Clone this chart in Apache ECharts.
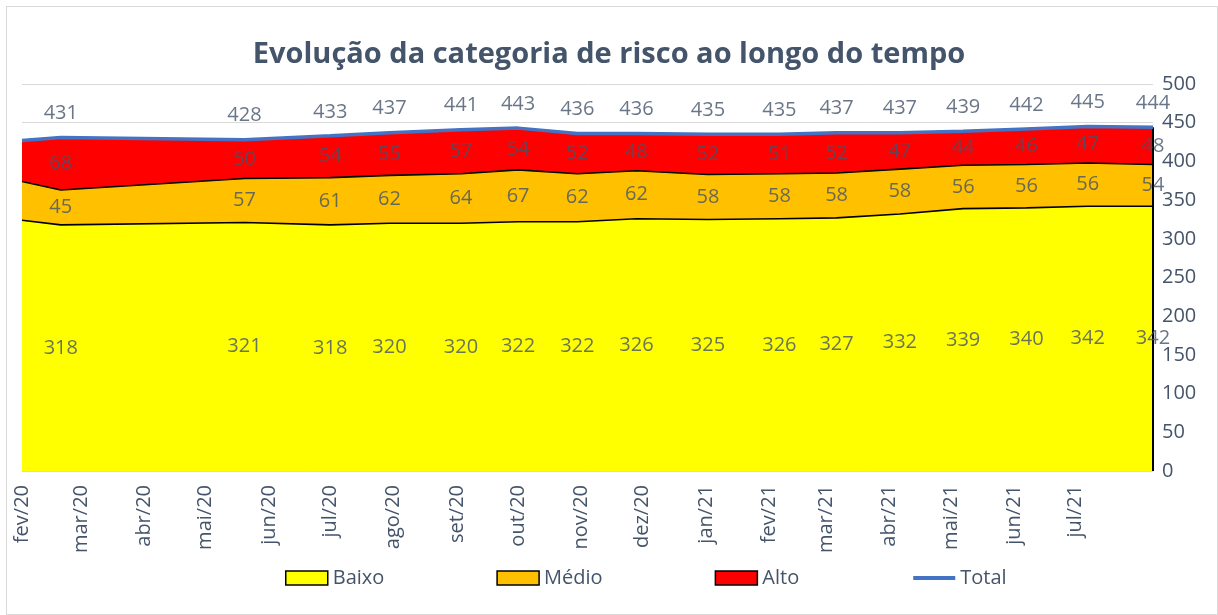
<!DOCTYPE html>
<html><head><meta charset="utf-8">
<script src="https://cdn.jsdelivr.net/npm/echarts@6/dist/echarts.min.js"></script>
<style>
html,body{margin:0;padding:0;background:#fff}
#frame{position:absolute;left:6px;top:6px;width:1212px;height:609px;border:1px solid #D9D9D9;box-sizing:border-box}
#c{position:absolute;left:0;top:0;width:1218px;height:615px}
</style></head>
<body><div id="frame"></div><div id="c"></div>
<script>
const dates = ['2020-02-01','2020-02-20','2020-05-20','2020-07-01','2020-07-30','2020-09-03','2020-10-01','2020-10-30','2020-11-28','2021-01-02','2021-02-06','2021-03-06','2021-04-06','2021-05-07','2021-06-07','2021-07-07','2021-08-08'];
const baixo = [324,318,321,318,320,320,322,322,326,325,326,327,332,339,340,342,342];
const medio = [50,45,57,61,62,64,67,62,62,58,58,58,58,56,56,56,54];
const alto  = [53,68,50,54,55,57,54,52,48,52,51,52,47,44,46,47,48];
const total = [427,431,428,433,437,441,443,436,436,435,435,437,437,439,442,445,444];
const labelled = [false,true,true,true,true,true,true,true,true,true,true,true,true,true,true,true,true];
const monthTicks = ['2020-02-01','2020-03-01','2020-04-01','2020-05-01','2020-06-01','2020-07-01','2020-08-01','2020-09-01','2020-10-01','2020-11-01','2020-12-01','2021-01-01','2021-02-01','2021-03-01','2021-04-01','2021-05-01','2021-06-01','2021-07-01'];
const monthNames = ['jan','fev','mar','abr','mai','jun','jul','ago','set','out','nov','dez'];
const seriesNames = ['Baixo','Médio','Alto','Total'];
const colors = ['#FFFF00','#FFC000','#FF0000','#4472C4'];

const TXT = '#44546A';
const FONT = 'Open Sans';
const DAY = 86400000;
const toDay = s => { const p = s.split('-').map(Number); return Math.round(Date.UTC(p[0], p[1]-1, p[2]) / DAY); };
const xs = dates.map(toDay);
const tickDays = monthTicks.map(toDay);
const fmtMonth = v => { const d = new Date(v * DAY); return monthNames[d.getUTCMonth()] + '/' + String(d.getUTCFullYear()).slice(2); };

// cumulative tops of the stacked bands
const cumBaixo = baixo.slice();
const cumMedio = baixo.map((v,i) => v + medio[i]);
const cumAlto = cumMedio.map((v,i) => v + alto[i]);

function areaSeries(name, vals, color) {
  return {
    name, type: 'line', data: vals.map((v,i)=>[xs[i], v]),
    showSymbol: false, symbol: 'none',
    lineStyle: { color: '#000', width: 1.6 },
    itemStyle: { color },
    areaStyle: { color, opacity: 1, origin: 'start' },
    z: 2
  };
}
function labelSeries(posVals, origVals, position, distance) {
  return {
    type: 'scatter', symbolSize: 0, silent: true, z: 10,
    data: posVals.map((m,i)=>({ value:[xs[i], m, origVals[i]], label:{ show: labelled[i] } })),
    label: { position, distance, color: TXT, fontSize: 20, fontFamily: FONT, formatter: p => p.value[2] }
  };
}
const midBaixo = baixo.map(v => v/2);
const midMedio = baixo.map((v,i) => v + medio[i]/2);
const midAlto = cumMedio.map((v,i) => v + alto[i]/2);
const last = xs.length - 1;

const chart = echarts.init(document.getElementById('c'));
chart.setOption({
  animation: false,
  title: { text: 'Evolução da categoria de risco ao longo do tempo', left: 'center', top: 35,
    textStyle: { color: TXT, fontSize: 29, fontWeight: 'bold', fontFamily: FONT } },
  grid: { left: 22, right: 65, top: 84, bottom: 144 },
  legend: {
    left: 280, top: 563, itemWidth: 42, itemHeight: 14, itemGap: 112,
    textStyle: { color: TXT, fontSize: 20, fontFamily: FONT },
    data: [
      { name: seriesNames[0], icon: 'rect', itemStyle: { color: colors[0], borderColor: '#000', borderWidth: 1.5 } },
      { name: seriesNames[1], icon: 'rect', itemStyle: { color: colors[1], borderColor: '#000', borderWidth: 1.5 } },
      { name: seriesNames[2], icon: 'rect', itemStyle: { color: colors[2], borderColor: '#000', borderWidth: 1.5 } },
      { name: seriesNames[3], itemStyle: { opacity: 0 }, lineStyle: { color: colors[3], width: 4 } }
    ]
  },
  xAxis: {
    type: 'value', min: xs[0], max: xs[last],
    axisLine: { show: true, lineStyle: { color: '#D9D9D9', width: 1 } },
    axisTick: { show: false },
    splitLine: { show: false },
    axisLabel: { customValues: tickDays, rotate: 90, margin: 14, color: TXT, fontSize: 20, fontFamily: FONT,
      formatter: v => fmtMonth(v), hideOverlap: false }
  },
  yAxis: {
    type: 'value', position: 'right', min: 0, max: 500, interval: 50,
    axisLine: { show: false }, axisTick: { show: false },
    splitLine: { lineStyle: { color: '#D9D9D9', width: 1 } },
    axisLabel: { margin: 9, color: TXT, fontSize: 20, fontFamily: FONT }
  },
  series: [
    areaSeries(seriesNames[2], cumAlto, colors[2]),
    areaSeries(seriesNames[1], cumMedio, colors[1]),
    areaSeries(seriesNames[0], cumBaixo, colors[0]),
    {
      name: seriesNames[3], type: 'line', showSymbol: false, symbol: 'none', z: 5,
      data: total.map((v,i)=>[xs[i], v]),
      lineStyle: { color: colors[3], width: 3.5 },
      itemStyle: { color: colors[3] },
      markLine: { silent: true, symbol: 'none', label: { show: false },
        lineStyle: { color: '#000', width: 2, type: 'solid' },
        data: [[ { coord: [xs[last], 0] }, { coord: [xs[last], total[last]] } ]] }
    },
    labelSeries(total, total, 'top', 14),
    labelSeries(midBaixo, baixo, 'inside', 0),
    labelSeries(midMedio, medio, 'inside', 0),
    labelSeries(midAlto, alto, 'inside', 0)
  ]
});
</script>
</body></html>
